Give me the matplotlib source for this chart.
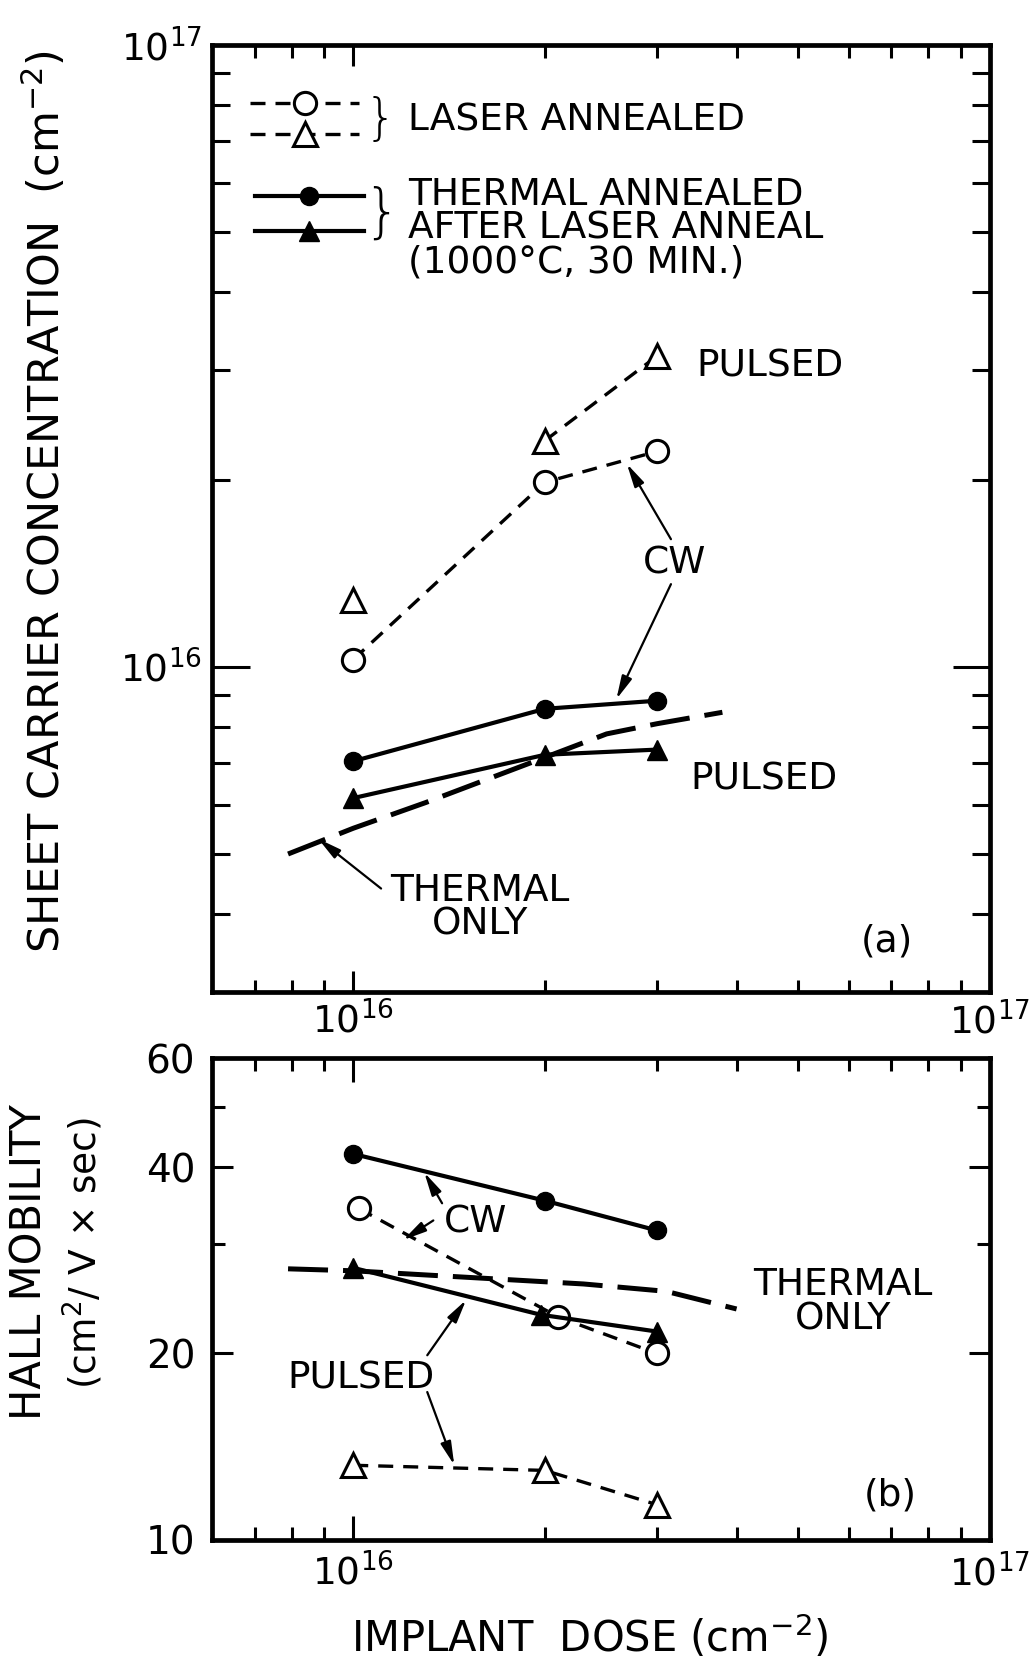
import numpy as np
import matplotlib
matplotlib.use('Agg')
import matplotlib.pyplot as plt
from matplotlib.ticker import FixedLocator, LogLocator, NullFormatter, FixedFormatter, LogFormatterSciNotation

plt.rcParams['font.family'] = ['DejaVu Sans']
plt.rcParams['mathtext.fontset'] = 'dejavusans'
plt.rcParams['mathtext.default'] = 'regular'

# implant doses (cm^-2)
dose = [1e16, 2e16, 3e16]

# (a) sheet carrier concentration (cm^-2)
conc_cw_laser = [1.027e16, 1.98e16, 2.22e16]
conc_pulsed_laser = [1.28e16, 2.31e16, 3.16e16]
conc_cw_thermal = [7.05e15, 8.56e15, 8.82e15]
conc_pulsed_thermal = [6.15e15, 7.22e15, 7.36e15]
thermal_only_dose_a = [7.9e15, 1.0e16, 1.3e16, 2.0e16, 2.5e16, 3.0e16, 3.8e16]
thermal_only_conc = [5.0e15, 5.5e15, 6.05e15, 7.15e15, 7.8e15, 8.1e15, 8.45e15]

# (b) hall mobility (cm^2/V sec)
mob_cw_thermal = [42.0, 35.3, 31.6]
dose_cw_laser_b = [1.02e16, 2.1e16, 3e16]
mob_cw_laser = [34.3, 22.9, 20.0]
dose_pulsed_thermal_b = [1e16, 1.97e16, 3e16]
mob_pulsed_thermal = [27.5, 23.1, 21.7]
mob_pulsed_laser = [13.2, 12.95, 11.4]
thermal_only_dose_b = [7.9e15, 1.0e16, 2.3e16, 3.1e16, 4.0e16]
thermal_only_mob = [27.4, 27.2, 25.9, 25.2, 23.6]

mob_ticks = [10, 20, 40, 60]
mob_minor = [30, 50]

K = 'black'
laser_kw = dict(color=K, lw=2.4, dashes=(4.5, 3))
therm_kw = dict(color=K, lw=3.0)
only_kw = dict(color=K, lw=3.6, dashes=(8, 3))
open_o = dict(marker='o', ms=16, mfc='white', mec=K, mew=2.2)
open_t = dict(marker='^', ms=17, mfc='white', mec=K, mew=2.2)
fill_o = dict(marker='o', ms=13, mfc=K, mec=K)
fill_t = dict(marker='^', ms=15, mfc=K, mec=K)
arrow = dict(arrowstyle='-|>,head_length=0.7,head_width=0.16', lw=1.6, color=K,
             shrinkA=0, shrinkB=0, mutation_scale=20)
TXT = 27

fig = plt.figure(figsize=(10.34, 16.63), dpi=100)
ax1 = fig.add_axes([0.2050, 0.4035, 0.7524, 0.5695])
ax2 = fig.add_axes([0.2050, 0.0740, 0.7524, 0.2898])


def dose_axis(ax, maj_len, min_len, pad):
    ax.set_xscale('log')
    ax.set_xlim(6e15, 1e17)
    for s in ax.spines.values():
        s.set_linewidth(3.4)
    ax.xaxis.set_major_locator(LogLocator(base=10, numticks=10))
    ax.xaxis.set_minor_locator(LogLocator(base=10, subs=np.arange(2, 10), numticks=20))
    ax.xaxis.set_major_formatter(LogFormatterSciNotation())
    ax.xaxis.set_minor_formatter(NullFormatter())
    ax.tick_params(axis='x', which='both', direction='in', top=True, bottom=True, width=2.2)
    ax.tick_params(axis='x', which='major', length=maj_len, labelsize=27, pad=pad)
    ax.tick_params(axis='x', which='minor', length=min_len)


## (a) 载流子浓度
dose_axis(ax1, 15, 9, 7)
ax1.set_yscale('log')
ax1.set_ylim(3e15, 1e17)
ax1.yaxis.set_major_locator(LogLocator(base=10, numticks=10))
ax1.yaxis.set_minor_locator(LogLocator(base=10, subs=np.arange(2, 10), numticks=20))
ax1.yaxis.set_major_formatter(LogFormatterSciNotation())
ax1.yaxis.set_minor_formatter(NullFormatter())
ax1.tick_params(axis='y', which='both', direction='in', left=True, right=True, width=2.2)
ax1.tick_params(axis='y', which='major', length=27, labelsize=27, pad=7)
ax1.tick_params(axis='y', which='minor', length=13)

l_cw_laser, = ax1.plot(dose, conc_cw_laser, **laser_kw, **open_o, zorder=3)
ax1.plot(dose[:1], conc_pulsed_laser[:1], ls='none', **open_t, zorder=3)
l_pulsed_laser, = ax1.plot(dose[1:], conc_pulsed_laser[1:], **laser_kw, **open_t, zorder=3)
l_cw_therm, = ax1.plot(dose, conc_cw_thermal, **therm_kw, **fill_o, zorder=3)
l_pulsed_therm, = ax1.plot(dose, conc_pulsed_thermal, **therm_kw, **fill_t, zorder=3)
ax1.plot(thermal_only_dose_a, thermal_only_conc, **only_kw, zorder=2)

# 图例：两组，右侧加花括号和说明文字
leg_kw = dict(frameon=False, numpoints=1, handlelength=5.6, fontsize=14, borderpad=0,
              borderaxespad=0, handletextpad=0, handleheight=0.7, loc='center left')
leg1 = ax1.legend([l_cw_laser, l_pulsed_laser], [' ', ' '], labelspacing=0.58,
                  bbox_to_anchor=(0.049, 0.921), **leg_kw)
ax1.add_artist(leg1)
ax1.legend([l_cw_therm, l_pulsed_therm], [' ', ' '], labelspacing=0.82,
           bbox_to_anchor=(0.055, 0.821), **leg_kw)
ax1.text(0.216, 0.921, '}', transform=ax1.transAxes, fontsize=36, fontweight='light',
         ha='center', va='center')
ax1.text(0.218, 0.821, '}', transform=ax1.transAxes, fontsize=42, fontweight='light',
         ha='center', va='center')
ax1.text(0.252, 0.920, 'LASER ANNEALED', transform=ax1.transAxes, fontsize=TXT, va='center')
ax1.text(0.252, 0.806, 'THERMAL ANNEALED\nAFTER LASER ANNEAL\n(1000°C, 30 MIN.)',
         transform=ax1.transAxes, fontsize=TXT, va='center', linespacing=0.93)

ax1.text(3.455e16, 3.035e16, 'PULSED', fontsize=TXT, va='center', ha='left')
ax1.text(3.2e16, 1.468e16, 'CW', fontsize=TXT, va='center', ha='center')
ax1.annotate('', xy=(2.69e16, 2.12e16), xytext=(3.155e16, 1.604e16), arrowprops=arrow)
ax1.annotate('', xy=(2.59e16, 8.87e15), xytext=(3.155e16, 1.358e16), arrowprops=arrow)
ax1.text(3.38e16, 6.59e15, 'PULSED', fontsize=TXT, va='center', ha='left')
ax1.text(1.583e16, 4.10e15, 'THERMAL\nONLY', fontsize=TXT, va='center', ha='center',
         linespacing=0.93)
ax1.annotate('', xy=(8.81e15, 5.29e15), xytext=(1.106e16, 4.40e15), arrowprops=arrow)
ax1.text(0.868, 0.053, '(a)', transform=ax1.transAxes, fontsize=TXT, ha='center', va='center')

## (b) 霍尔迁移率
dose_axis(ax2, 17, 9.5, 10)
ax2.set_yscale('log')
ax2.set_ylim(10, 60)
ax2.yaxis.set_major_locator(FixedLocator(mob_ticks))
ax2.yaxis.set_major_formatter(FixedFormatter([str(v) for v in mob_ticks]))
ax2.yaxis.set_minor_locator(FixedLocator(mob_minor))
ax2.yaxis.set_minor_formatter(NullFormatter())
ax2.tick_params(axis='y', which='both', direction='in', left=True, right=True, width=2.2)
ax2.tick_params(axis='y', which='major', length=15, labelsize=28, pad=12)
ax2.tick_params(axis='y', which='minor', length=9.5)

ax2.plot(dose, mob_cw_thermal, **therm_kw, **fill_o, zorder=3)
ax2.plot(dose_cw_laser_b, mob_cw_laser, **laser_kw, **open_o, zorder=3)
ax2.plot(dose_pulsed_thermal_b, mob_pulsed_thermal, **therm_kw, **fill_t, zorder=3)
ax2.plot(dose, mob_pulsed_laser, **laser_kw, **open_t, zorder=3)
ax2.plot(thermal_only_dose_b, thermal_only_mob, **only_kw, zorder=2)

ax2.text(1.554e16, 32.6, 'CW', fontsize=TXT, va='center', ha='center')
ax2.annotate('', xy=(1.293e16, 39.2), xytext=(1.379e16, 34.96), arrowprops=arrow)
ax2.annotate('', xy=(1.198e16, 30.5), xytext=(1.336e16, 32.8), arrowprops=arrow)
ax2.text(5.87e16, 24.2, 'THERMAL\nONLY', fontsize=TXT, va='center', ha='center',
         linespacing=0.93)
ax2.text(1.029e16, 18.25, 'PULSED', fontsize=TXT, va='center', ha='center')
ax2.annotate('', xy=(1.504e16, 24.4), xytext=(1.307e16, 19.87), arrowprops=arrow)
ax2.annotate('', xy=(1.441e16, 13.21), xytext=(1.307e16, 17.33), arrowprops=arrow)
ax2.text(0.872, 0.093, '(b)', transform=ax2.transAxes, fontsize=TXT, ha='center', va='center')

# 坐标轴标题
fig.text(60 / 1034, 1 - 501 / 1663, 'SHEET CARRIER CONCENTRATION  (cm$^{-2}$)',
         rotation=90, rotation_mode='anchor', ha='center', va='baseline', fontsize=31)
fig.text(42 / 1034, 1 - 1262 / 1663, 'HALL MOBILITY', rotation=90, rotation_mode='anchor',
         ha='center', va='baseline', fontsize=30)
fig.text(97 / 1034, 1 - 1253 / 1663, '(cm$^2$/ V × sec)', rotation=90, rotation_mode='anchor',
         ha='center', va='baseline', fontsize=27)
fig.text(590 / 1034, 1 - 1652 / 1663, 'IMPLANT  DOSE (cm$^{-2}$)', ha='center', va='baseline',
         fontsize=30)

fig.savefig('out.png', dpi=100)
